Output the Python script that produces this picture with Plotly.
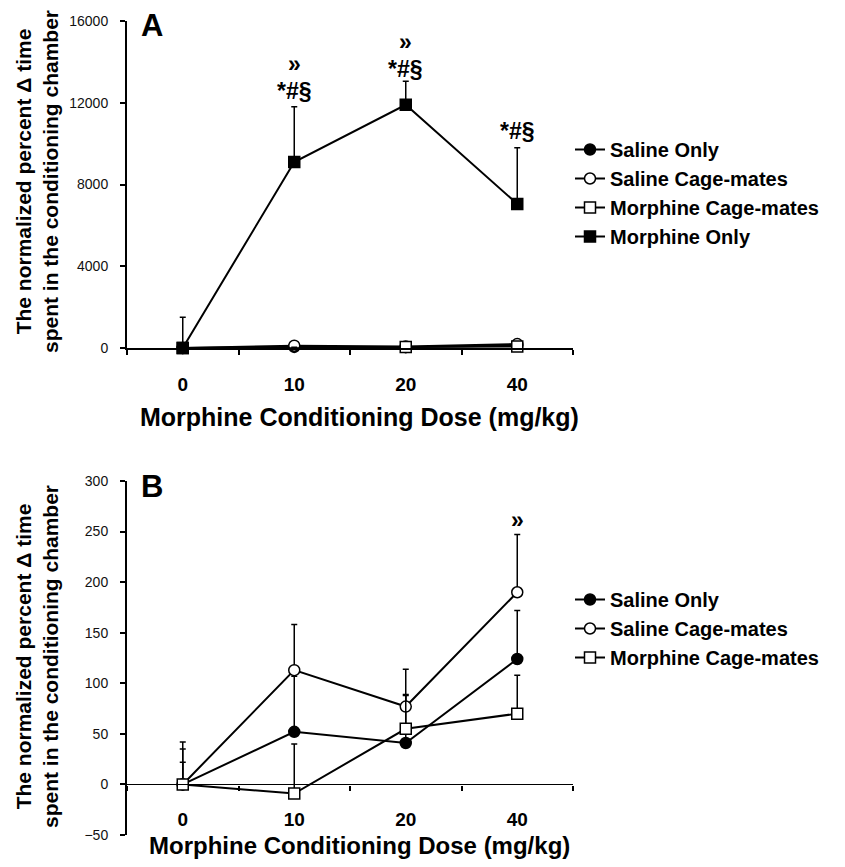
import plotly.graph_objects as go

doses = ["0", "10", "20", "40"]

# Panel A values
a_saline_only = [0, 52, 41, 124]
a_saline_only_err = [35, 55, 47, 48]
a_saline_cage = [0, 113, 77, 190]
a_saline_cage_err = [42, 45, 37, 57]
a_morph_cage = [0, -9, 55, 70]
a_morph_cage_err = [22, 49, 34, 38]
a_morph_only = [0, 9100, 11900, 7050]
a_morph_only_err = [1500, 2700, 1150, 2750]

# Panel B values
b_saline_only = [0, 52, 41, 124]
b_saline_only_err = [35, 55, 47, 48]
b_saline_cage = [0, 113, 77, 190]
b_saline_cage_err = [42, 45, 37, 57]
b_morph_cage = [0, -9, 55, 70]
b_morph_cage_err = [22, 49, 34, 38]

a_yticks = [0, 4000, 8000, 12000, 16000]
b_yticks = [-50, 0, 50, 100, 150, 200, 250, 300]

# significance labels (panel A): text per dose and its vertical centre
a_sig_x = ["10", "20", "40"]
a_sig_text = ["»<br>*#§", "»<br>*#§", "*#§"]
a_sig_y = [13235, 14336, 10620]
# panel B
b_sig_x = ["40"]
b_sig_text = ["»"]
b_sig_y = [261]

FONT = "Liberation Sans"
BLACK = "#000000"

styles = {
    "Saline Only": dict(symbol="circle", color=BLACK),
    "Saline Cage-mates": dict(symbol="circle", color="#ffffff"),
    "Morphine Cage-mates": dict(symbol="square", color="#ffffff"),
    "Morphine Only": dict(symbol="square", color=BLACK),
}

fig = go.Figure()


def add(name, y, err, xa, ya, legend):
    st = styles[name]
    fig.add_trace(go.Scatter(
        x=doses, y=y, name=name, mode="lines+markers",
        xaxis=xa, yaxis=ya, legend=legend, legendgroup=legend + name,
        line=dict(color=BLACK, width=2),
        marker=dict(symbol=st["symbol"], size=11, color=st["color"],
                    line=dict(color=BLACK, width=1.5)),
        error_y=dict(type="data", array=err, arrayminus=[0] * len(err),
                     symmetric=False, color=BLACK, thickness=1.5, width=3),
        cliponaxis=False,
    ))


add("Saline Only", a_saline_only, a_saline_only_err, "x", "y", "legend")
add("Saline Cage-mates", a_saline_cage, a_saline_cage_err, "x", "y", "legend")
add("Morphine Cage-mates", a_morph_cage, a_morph_cage_err, "x", "y", "legend")
add("Morphine Only", a_morph_only, a_morph_only_err, "x", "y", "legend")

add("Saline Only", b_saline_only, b_saline_only_err, "x2", "y2", "legend2")
add("Saline Cage-mates", b_saline_cage, b_saline_cage_err, "x2", "y2", "legend2")
add("Morphine Cage-mates", b_morph_cage, b_morph_cage_err, "x2", "y2", "legend2")

OFF = 8  # page body margin
W, H = 845 - 2 * OFF, 867 - 2 * OFF
# plot-area edges in screen pixels
PX_L, PX_R = 127, 573
A_TOP, A_BOT = 21, 348
B_TOP, B_BOT = 481, 835
ML = PX_L - OFF
MR = W - (PX_R - OFF)
MT = A_TOP - OFF
MB = H - (B_BOT - OFF)
PH = H - MT - MB
PW = W - ML - MR


def px_x(p):
    return (p - OFF - ML) / PW


def px_y(p):
    return (H - MB - (p - OFF)) / PH


dom_a = [px_y(A_BOT), 1.0]
dom_b = [0.0, px_y(B_TOP)]
b_min, b_max = -50, 300
zero_pos_b = dom_b[0] + (0 - b_min) / (b_max - b_min) * (dom_b[1] - dom_b[0])

tickfont_x = dict(family=FONT, size=19, color=BLACK, weight="bold")
tickfont_y = dict(family=FONT, size=14, color="#111111")

common_x = dict(type="category", categoryorder="array", categoryarray=doses,
                range=[-0.5, 3.5], showline=True, linecolor=BLACK,
                ticks="outside", ticklen=5, tickwidth=1.5, tickcolor=BLACK,
                tickson="boundaries", showgrid=False, zeroline=False,
                tickfont=tickfont_x, ticklabelstandoff=18)
common_y = dict(showline=True, linecolor=BLACK, linewidth=2, ticks="outside",
                ticklen=5, tickwidth=1.5, tickcolor=BLACK, showgrid=False,
                tickfont=tickfont_y, ticklabelstandoff=9, tickformat="d", zeroline=False)

legend_font = dict(family=FONT, size=20, color=BLACK, weight="bold")
fig.update_layout(
    width=W, height=H,
    margin=dict(l=ML, r=MR, t=MT, b=MB, autoexpand=False),
    plot_bgcolor="white", paper_bgcolor="white",
    font=dict(family=FONT, color=BLACK),
    xaxis=dict(domain=[0, 1], anchor="y", linewidth=2, **common_x),
    yaxis=dict(domain=dom_a, anchor="x", range=[0, 16000], tickvals=a_yticks, **common_y),
    xaxis2=dict(domain=[0, 1], anchor="free", position=zero_pos_b, linewidth=1.2, **common_x),
    yaxis2=dict(domain=dom_b, anchor="x2", range=[b_min, b_max], tickvals=b_yticks, **common_y),
    legend=dict(x=px_x(570), y=px_y(130), xanchor="left", yanchor="top",
                font=legend_font, tracegroupgap=0, bgcolor="rgba(0,0,0,0)"),
    legend2=dict(x=px_x(570), y=px_y(580), xanchor="left", yanchor="top",
                 font=legend_font, tracegroupgap=0, bgcolor="rgba(0,0,0,0)"),
    showlegend=True,
)

ann = []
bold = dict(family=FONT, color=BLACK, weight="bold")


def sig_markup(t):
    return "<br>".join(f"<span style='font-size:23px'>{ln}</span>" for ln in t.split("<br>"))


for x, y, t in zip(a_sig_x, a_sig_y, a_sig_text):
    ann.append(dict(x=doses.index(x), y=y, xref="x", yref="y", text=sig_markup(t),
                    showarrow=False, font=dict(size=21, **bold)))
for x, y, t in zip(b_sig_x, b_sig_y, b_sig_text):
    ann.append(dict(x=doses.index(x), y=y, xref="x2", yref="y2", text=sig_markup(t),
                    showarrow=False, font=dict(size=21, **bold)))

ann.append(dict(x=px_x(152), y=px_y(26), xref="paper", yref="paper", text="A",
                showarrow=False, xanchor="center", yanchor="middle", font=dict(size=31, **bold)))
ann.append(dict(x=px_x(152), y=px_y(486), xref="paper", yref="paper", text="B",
                showarrow=False, xanchor="center", yanchor="middle", font=dict(size=31, **bold)))

xtitle = "Morphine Conditioning Dose (mg/kg)"
ytitle = "The normalized percent Δ time<br>spent in the conditioning chamber"
for yc, fs in ((417, 25), (845, 24)):
    ann.append(dict(x=px_x(359), y=px_y(yc), xref="paper", yref="paper", text=xtitle,
                    showarrow=False, xanchor="center", yanchor="middle",
                    font=dict(size=fs, **bold)))
for yc in (182, 657):
    ann.append(dict(x=px_x(37), y=px_y(yc), xref="paper", yref="paper", text=ytitle,
                    showarrow=False, xanchor="center", yanchor="middle", textangle=-90,
                    font=dict(size=21, **bold)))

fig.update_layout(annotations=ann)
fig.write_html("out.html")
